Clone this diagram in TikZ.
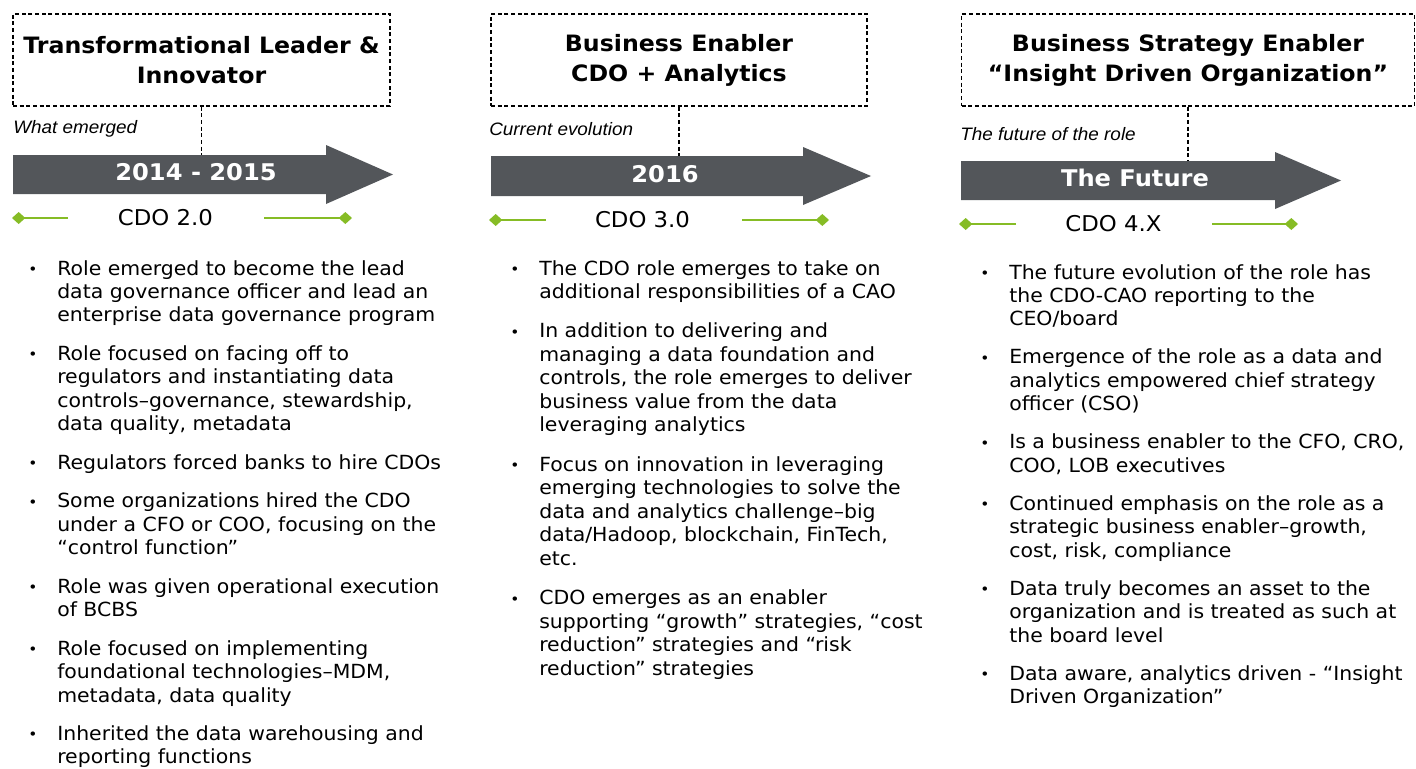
\documentclass[tikz,border=0pt]{standalone}
\usepackage{fontspec}
\setmainfont{DejaVu Sans}[FakeStretch=1.05]
\newfontfamily\notefont{Liberation Sans}[FakeStretch=1.05]
\usetikzlibrary{arrows.meta, positioning}

\definecolor{arrowgray}{HTML}{53565A}
\definecolor{cdogreen}{HTML}{86BC25}
\newlength\px
\setlength\px{0.75pt}
% bullet hung to the left of each item
\newcommand{\itm}{\leavevmode\llap{\makebox[29\px][l]{\raisebox{0.5\px}{\fontsize{11pt}{11pt}\selectfont •}}}}

\begin{document}
\begin{tikzpicture}[
    x=0.75pt, y=-0.75pt,
    titlebox/.style={draw, dash pattern=on 3pt off 2pt, line width=1pt, minimum height=92\px, align=center, inner sep=0pt, font=\fontsize{16.9pt}{22.5pt}\selectfont\bfseries},
    dashline/.style={dash pattern=on 3pt off 2pt, line width=1pt},
    note/.style={anchor=base west, inner sep=0pt, font=\notefont\itshape\fontsize{13.5pt}{16pt}\selectfont},
    era/.style={anchor=base, inner sep=0pt, text=white, font=\fontsize{17.25pt}{20pt}\selectfont\bfseries},
    cdo/.style={inner sep=0pt, font=\fontsize{16.3pt}{20pt}\selectfont},
    cdoline/.style={draw=cdogreen, fill=cdogreen, line width=1.5pt},
    items/.style={anchor=base west, inner sep=0pt, text width=420\px, align=left, font=\fontsize{14.6pt}{17.6pt}\selectfont}
]
\useasboundingbox (0,0) rectangle (1416,768);

% --- 1. WHAT EMERGED (Left) ---
\node[titlebox, minimum width=377\px] (head1) at (201.5,60) {Transformational Leader \&\\Innovator};
\node[note] (note1) at (13,133) {What emerged};
\coordinate (arr1) at (13,155);
\fill[arrowgray] (arr1) -- ++(313,0) -- ++(0,-10) -- ++(67,29.5) -- ++(-67,29.5) -- ++(0,-10) -- ++(-313,0) -- cycle;
\draw[dashline] (head1.south) -- (head1.south |- arr1);
\node[era] (era1) at (196,180) {2014 - 2015};
\node[cdo] (cdo1) at (165.5,218) {CDO 2.0};
\draw[cdoline, {Diamond[length=10pt,width=9pt]}-] (12,218) -- (68,218);
\draw[cdoline, -{Diamond[length=10pt,width=9pt]}] (264,218) -- (352,218);

\node[items] (list1) at (57,275) {%
\itm Role emerged to become the lead\\
data governance officer and lead an\\
enterprise data governance program\\[15\px]
\itm Role focused on facing off to\\
regulators and instantiating data\\
controls–governance, stewardship,\\
data quality, metadata\\[15\px]
\itm Regulators forced banks to hire CDOs\\[15\px]
\itm Some organizations hired the CDO\\
under a CFO or COO, focusing on the\\
“control function”\\[15\px]
\itm Role was given operational execution\\
of BCBS\\[15\px]
\itm Role focused on implementing\\
foundational technologies–MDM,\\
metadata, data quality\\[15\px]
\itm Inherited the data warehousing and\\
reporting functions};

% --- 2. CURRENT EVOLUTION (Middle) ---
\node[titlebox, minimum width=376\px] (head2) at (679,60) {Business Enabler\\CDO + Analytics};
\node[note] (note2) at (489,135) {Current evolution};
\coordinate (arr2) at (491,156);
\fill[arrowgray] (arr2) -- ++(312,0) -- ++(0,-9) -- ++(68,29) -- ++(-68,29) -- ++(0,-9) -- ++(-312,0) -- cycle;
\draw[dashline] (head2.south) -- (head2.south |- arr2);
\node[era] (era2) at (665,182) {2016};
\node[cdo] (cdo2) at (642.5,220) {CDO 3.0};
\draw[cdoline, {Diamond[length=10pt,width=9pt]}-] (489,220) -- (546,220);
\draw[cdoline, -{Diamond[length=10pt,width=9pt]}] (742,220) -- (829,220);

\node[items] (list2) at (539,275) {%
\itm The CDO role emerges to take on\\
additional responsibilities of a CAO\\[16\px]
\itm In addition to delivering and\\
managing a data foundation and\\
controls, the role emerges to deliver\\
business value from the data\\
leveraging analytics\\[16\px]
\itm Focus on innovation in leveraging\\
emerging technologies to solve the\\
data and analytics challenge–big\\
data/Hadoop, blockchain, FinTech,\\
etc.\\[16\px]
\itm CDO emerges as an enabler\\
supporting “growth” strategies, “cost\\
reduction” strategies and “risk\\
reduction” strategies};

% --- 3. THE FUTURE (Right) ---
\node[titlebox, minimum width=453\px] (head3) at (1188,60) {Business Strategy Enabler\\“Insight Driven Organization”};
\node[note] (note3) at (960,140) {The future of the role};
\coordinate (arr3) at (961,161);
\fill[arrowgray] (arr3) -- ++(314,0) -- ++(0,-9) -- ++(66,28.5) -- ++(-66,28.5) -- ++(0,-9) -- ++(-314,0) -- cycle;
\draw[dashline] (head3.south) -- (head3.south |- arr3);
\node[era] (era3) at (1135,186) {The Future};
\node[cdo] (cdo3) at (1113.5,224) {CDO 4.X};
\draw[cdoline, {Diamond[length=10pt,width=9pt]}-] (959,224) -- (1016,224);
\draw[cdoline, -{Diamond[length=10pt,width=9pt]}] (1212,224) -- (1298,224);

\node[items] (list3) at (1009,279) {%
\itm The future evolution of the role has\\
the CDO-CAO reporting to the\\
CEO/board\\[14.5\px]
\itm Emergence of the role as a data and\\
analytics empowered chief strategy\\
officer (CSO)\\[14.5\px]
\itm Is a business enabler to the CFO, CRO,\\
COO, LOB executives\\[14.5\px]
\itm Continued emphasis on the role as a\\
strategic business enabler–growth,\\
cost, risk, compliance\\[14.5\px]
\itm Data truly becomes an asset to the\\
organization and is treated as such at\\
the board level\\[14.5\px]
\itm Data aware, analytics driven - “Insight\\
Driven Organization”};

\end{tikzpicture}
\end{document}
